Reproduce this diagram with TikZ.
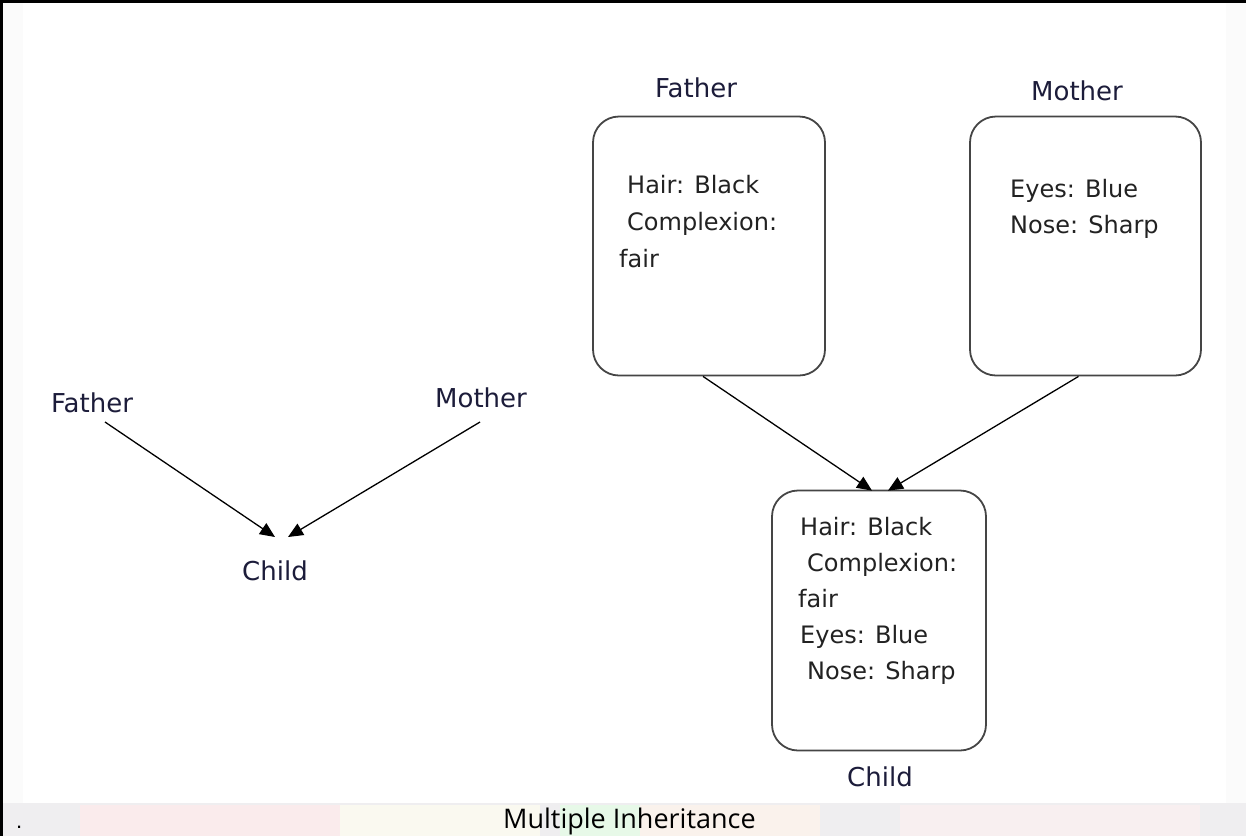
\documentclass[tikz,border=0pt]{standalone}
\usepackage{fontspec}
\setmainfont{DejaVu Sans}
\newfontfamily\capfont{Open Sans}
\newfontfamily\dotfont{Liberation Sans}
\usetikzlibrary{arrows.meta}
\definecolor{labelcol}{HTML}{1C1C3A}
\definecolor{textcol}{HTML}{222222}
\definecolor{boxcol}{HTML}{454545}
\definecolor{bandcol}{HTML}{EFEEF0}
\tikzset{
  lbl/.style={inner sep=0pt, text=labelcol, font=\fontsize{26}{30}\selectfont, anchor=base},
  boxtxt/.style={inner sep=0pt, text=textcol, anchor=base west, align=left},
  classbox/.style={draw=boxcol, line width=1.8pt, rounded corners=26pt, inner sep=0pt},
  inh/.style={draw=black, line width=1.3pt, -{Triangle[length=15pt,width=13pt]}},
}
\begin{document}
\begin{tikzpicture}[x=1pt,y=-1pt]
\useasboundingbox (0,0) rectangle (1246,836);
% background
\fill[white] (0,0) rectangle (1246,836);
\fill[gray!3] (2,0) rectangle (23,803);
\fill[gray!3] (1226,0) rectangle (1246,803);
\fill[bandcol] (0,803) rectangle (1246,836);
\fill[red!8, opacity=0.7] (80,805) rectangle (340,836);
\fill[yellow!6, opacity=0.7] (340,805) rectangle (540,836);
\fill[green!10, opacity=0.7] (560,805) rectangle (640,836);
\fill[orange!8, opacity=0.7] (640,805) rectangle (820,836);
\fill[red!6, opacity=0.6] (900,805) rectangle (1200,836);
% border
\fill[black] (0,0) rectangle (1246,2.5);
\fill[black] (0,0) rectangle (2.5,836);

% ---- left simple diagram ----
\node[lbl] (lfather) at (92,412) {Father};
\node[lbl] (lmother) at (481,407) {Mother};
\node[lbl] (lchild) at (275,580) {Child};
\coordinate (lfs) at (105,422);
\coordinate (lft) at (275,537);
\coordinate (lms) at (480,422);
\coordinate (lmt) at (288,537);
\draw[inh] (lfs) -- (lft);
\draw[inh] (lms) -- (lmt);

% ---- right class diagram ----
\node[lbl] (father) at (696,97) {Father};
\node[lbl] (mother) at (1077,100) {Mother};
\node[classbox, minimum width=232pt, minimum height=259pt] (fbox) at (709,246) {};
\node[classbox, minimum width=231pt, minimum height=259pt] (mbox) at (1085.5,246) {};
\node[classbox, minimum width=214pt, minimum height=260pt] (cbox) at (879,620.5) {};
\node[boxtxt, font=\fontsize{24}{37}\selectfont] (ftxt) at (619,267) {\hspace*{8pt}Hair: Black\\ \hspace*{8pt}Complexion:\\ fair};
\node[boxtxt, font=\fontsize{24}{36.5}\selectfont] (mtxt) at (1010,233.5) {Eyes: Blue\\ Nose: Sharp};
\node[boxtxt, font=\fontsize{24}{36}\selectfont] (ctxt) at (798,679) {\hspace*{2pt}Hair: Black\\ \hspace*{9pt}Complexion:\\ fair\\ \hspace*{2pt}Eyes: Blue\\ \hspace*{9pt}Nose: Sharp};
\node[lbl] (child) at (880,786) {Child};
\draw[inh] ([xshift=-6pt]fbox.south) -- ([xshift=-7pt,yshift=-1pt]cbox.north);
\draw[inh] ([xshift=-7pt]mbox.south) -- ([xshift=9pt,yshift=-1pt]cbox.north);

% ---- caption ----
\node[inner sep=0pt, anchor=base west, font=\dotfont\fontsize{22}{26}\selectfont] (dot) at (16,828) {.};
\node[inner sep=0pt, anchor=base west, font=\capfont\fontsize{27}{30}\selectfont] (caption) at (503,828) {Multiple Inheritance};
\end{tikzpicture}
\end{document}
